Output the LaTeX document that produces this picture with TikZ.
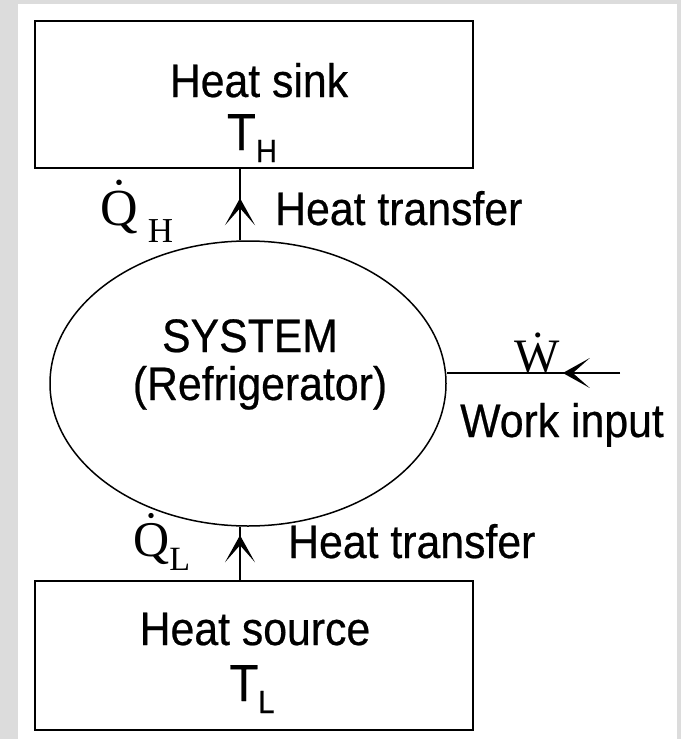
\documentclass[tikz,border=0pt]{standalone}
\usepackage{fontspec}
\setmainfont{Liberation Sans}[FakeStretch=0.91,FakeBold=0.5]
\newfontfamily\serifQ{Liberation Serif}
\usetikzlibrary{shapes.geometric,arrows.meta,decorations.markings}
\definecolor{framegray}{HTML}{DCDCDC}
\tikzset{
  reservoir/.style={draw, line width=2pt, rectangle, minimum width=438pt, inner sep=0pt},
  label/.style={inner sep=0pt, anchor=base, font=\fontsize{47}{50}\selectfont},
  flow/.style={draw, line width=1.6pt, postaction={decorate},
    decoration={markings, mark=at position #1 with {\arrow{Stealth[length=27pt,width=30pt,inset=17pt]}}}}
}
\newcommand{\sub}[2][-12pt]{\raisebox{#1}{\fontsize{32}{32}\selectfont #2}}
\begin{document}
\begin{tikzpicture}[x=1pt,y=-1pt]
    % Khung nền
    \useasboundingbox (0,0) rectangle (681,739);
    \fill[framegray] (0,0) rectangle (681,739);
    \fill[white] (18,4) rectangle (677,739);

    % Hai nguồn nhiệt
    \node[reservoir, minimum height=147pt] (sink) at (254,94.5) {};
    \node[reservoir, minimum height=149pt] (source) at (254,655.5) {};
    \node[label] (sinktxt) at (259,97) {Heat sink};
    \node[label, font=\fontsize{52}{56}\selectfont] (th) at (252,150) {T\sub{H}};
    \node[label] (sourcetxt) at (255,645) {Heat source};
    \node[label, font=\fontsize{52}{56}\selectfont] (tl) at (252,701) {T\sub{L}};

    % Hệ thống
    \node[draw, line width=1.5pt, ellipse, minimum width=396pt, minimum height=285pt, inner sep=0pt] (sys) at (248,383.5) {};
    \node[label] (systxt) at (250,352) {SYSTEM};
    \node[label] (reftxt) at (260,400) {(Refrigerator)};

    % Truyền nhiệt
    \coordinate (axis) at (240,0);
    \coordinate (wend) at (620,373);
    \draw[flow=0.59] (sys.north -| axis) -- (sink.south -| axis);
    \draw[flow=0.84] (source.north -| axis) -- (sys.south -| axis);
    \draw[flow=0.33] (wend) -- (sys.east |- wend);

    % Nhãn
    \node[label, anchor=base west] (qh) at (100,225) {\serifQ\fontsize{52}{56}\selectfont\.{Q}\hspace{10pt}\raisebox{-17pt}{\fontsize{35}{35}\selectfont H}};
    \node[label, anchor=base west] (hth) at (275,225) {Heat transfer};
    \node[label, anchor=base west] (ql) at (133,556) {\serifQ\fontsize{50}{54}\selectfont\.{Q}\raisebox{-14pt}{\fontsize{34}{34}\selectfont L}};
    \node[label, anchor=base west] (htl) at (288,558) {Heat transfer};
    \node[label] (w) at (537,372) {\serifQ\fontsize{48}{52}\selectfont\.{W}};
    \node[label, anchor=base west] (wtxt) at (460,437) {Work input};
\end{tikzpicture}
\end{document}
